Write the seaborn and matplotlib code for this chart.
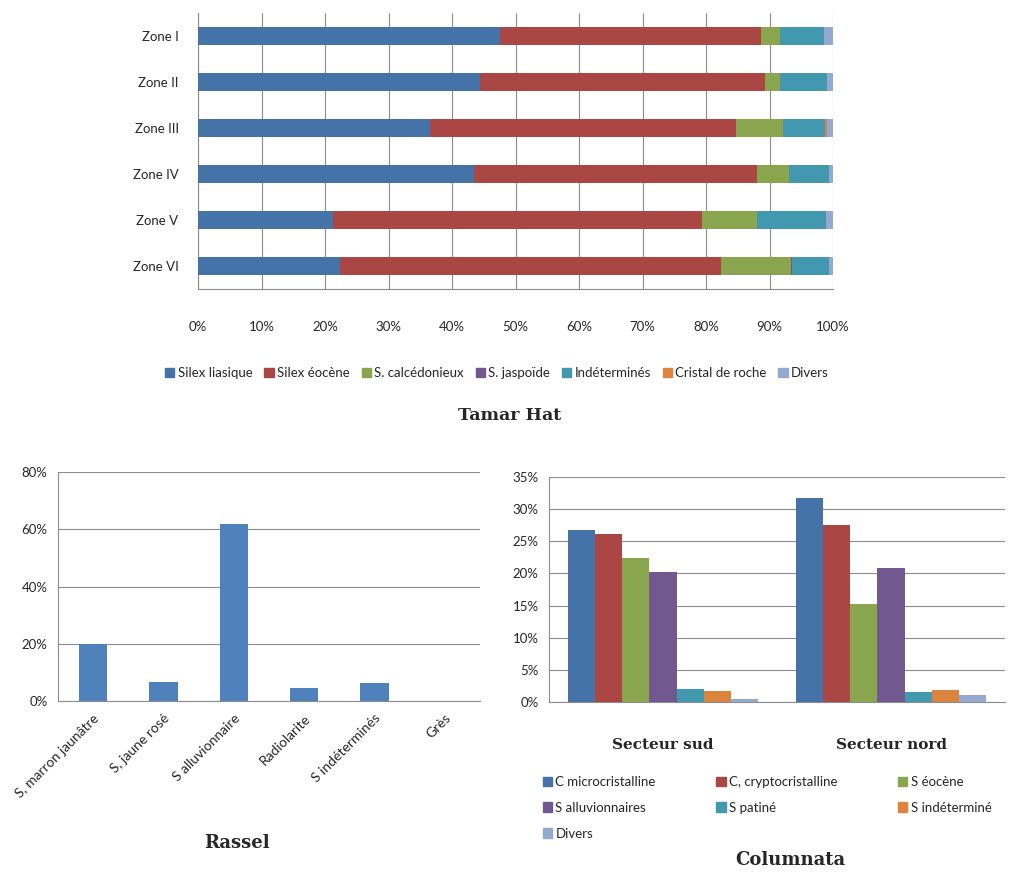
import numpy as np
import pandas as pd
import matplotlib.pyplot as plt
import seaborn as sns
from matplotlib.patches import Patch
from matplotlib.ticker import PercentFormatter, FixedLocator

# Tamar Hat (percentages per zone, stacked to 100)
zones = ['Zone I', 'Zone II', 'Zone III', 'Zone IV', 'Zone V', 'Zone VI']
silex_liasique = [47.5, 44.4, 36.5, 43.4, 21.2, 22.4]
silex_eocene = [41.1, 44.9, 48.2, 44.7, 58.2, 60.0]
s_calcedonieux = [3.1, 2.4, 7.4, 5.0, 8.7, 11.0]
s_jaspoide = [0.0, 0.0, 0.0, 0.0, 0.0, 0.1]
indetermines = [6.9, 7.4, 6.7, 6.2, 10.8, 5.8]
cristal_roche = [0.0, 0.0, 0.2, 0.0, 0.0, 0.0]
divers = [1.4, 0.9, 1.0, 0.7, 1.1, 0.7]
tamar_names = ['Silex liasique', 'Silex éocène', 'S. calcédonieux', 'S. jaspoïde',
               'Indéterminés', 'Cristal de roche', 'Divers']

# Rassel
rassel_cats = ['S, marron jaunâtre', 'S, jaune rosé', 'S alluvionnaire',
               'Radiolarite', 'S indéterminés', 'Grès']
rassel_vals = [20.0, 6.8, 62.0, 4.7, 6.2, 0.0]

# Columnata
secteurs = ['Secteur sud', 'Secteur nord']
col_names = ['C microcristalline', 'C, cryptocristalline', 'S éocène', 'S alluvionnaires',
             'S patiné', 'S indéterminé', 'Divers']
col_sud = [26.8, 26.1, 22.4, 20.3, 2.1, 1.7, 0.5]
col_nord = [31.7, 27.5, 15.2, 20.8, 1.6, 1.9, 1.1]

colors = ['#4572A7', '#AA4643', '#89A54E', '#71588F', '#4198AF', '#DB843D', '#93A9CF']
grid_c = '#8c8c8c'

sns.set_style('white')
plt.rcParams['font.family'] = ['Lato', 'DejaVu Sans']
plt.rcParams['font.size'] = 9.5
title_font = dict(family='DejaVu Serif', weight='bold')

fig = plt.figure(figsize=(10.19, 8.73), dpi=100)

# ---------- Tamar Hat ----------
ax1 = fig.add_axes([198 / 1019, 1 - 289 / 873, 635 / 1019, 276 / 873])
series = [silex_liasique, silex_eocene, s_calcedonieux, s_jaspoide,
          indetermines, cristal_roche, divers]
cum = np.cumsum(np.array(series), axis=0)
for i in range(len(series) - 1, -1, -1):
    sns.barplot(x=cum[i], y=zones, orient='h', color=colors[i], saturation=1,
                width=0.37, linewidth=0, ax=ax1, zorder=3)
ax1.set_xlim(0, 100)
ax1.set_xticks(np.arange(0, 101, 10))
ax1.xaxis.set_major_formatter(PercentFormatter(decimals=0))
ax1.grid(axis='x', color=grid_c, lw=0.8, zorder=0)
ax1.set_axisbelow(True)
ax1.set_xlabel('')
ax1.set_ylabel('')
for s in ['top', 'right']:
    ax1.spines[s].set_visible(False)
for s in ['left', 'bottom']:
    ax1.spines[s].set_color(grid_c)
ax1.tick_params(axis='y', length=0, pad=14)
ax1.tick_params(axis='x', length=5, color=grid_c, direction='out', pad=18)
ax1.yaxis.set_minor_locator(FixedLocator(np.arange(-0.5, 6, 1)))
ax1.tick_params(axis='y', which='minor', length=4, color=grid_c)
ax1.set_ylim(5.5, -0.5)

h1 = [Patch(color=c) for c in colors]
fig.legend(h1, tamar_names, loc='center', bbox_to_anchor=(497 / 1019, 1 - 373 / 873),
           ncol=7, frameon=False, handlelength=0.7, handleheight=0.7,
           handletextpad=0.25, columnspacing=0.9, fontsize=9.5)
fig.text(510 / 1019, 1 - 416 / 873, 'Tamar Hat', ha='center', va='center',
         fontsize=12.5, **title_font)

# ---------- Rassel ----------
ax2 = fig.add_axes([58 / 1019, 1 - 701 / 873, 422 / 1019, 229 / 873])
sns.barplot(x=rassel_cats, y=rassel_vals, color='#4F81BD', saturation=1,
            width=0.4, linewidth=0, ax=ax2, zorder=3)
ax2.set_ylim(0, 80)
ax2.set_yticks(np.arange(0, 81, 20))
ax2.yaxis.set_major_formatter(PercentFormatter(decimals=0))
ax2.set_xlim(-0.5, 5.5)
ax2.grid(axis='y', color=grid_c, lw=0.8, zorder=0)
ax2.set_axisbelow(True)
for s in ['top', 'right']:
    ax2.spines[s].set_visible(False)
for s in ['left', 'bottom']:
    ax2.spines[s].set_color(grid_c)
ax2.tick_params(axis='x', length=0, pad=8, labelsize=10)
ax2.tick_params(axis='y', length=4, color=grid_c)
ax2.xaxis.set_minor_locator(FixedLocator(np.arange(-0.5, 6, 1)))
ax2.tick_params(axis='x', which='minor', length=5, color=grid_c)
plt.setp(ax2.get_xticklabels(), rotation=45, ha='right', rotation_mode='anchor')
fig.text(237 / 1019, 1 - 843 / 873, 'Rassel', ha='center', va='center',
         fontsize=13, **title_font)

# ---------- Columnata ----------
df = pd.DataFrame({
    'secteur': np.repeat(secteurs, len(col_names)),
    'type': col_names * 2,
    'val': col_sud + col_nord,
})
ax3 = fig.add_axes([549 / 1019, 1 - 702 / 873, 456 / 1019, 225 / 873])
sns.barplot(data=df, x='secteur', y='val', hue='type', hue_order=col_names,
            palette=colors, saturation=1, width=0.83, linewidth=0, legend=False,
            ax=ax3, zorder=3)
ax3.set_ylim(0, 35)
ax3.set_yticks(np.arange(0, 36, 5))
ax3.yaxis.set_major_formatter(PercentFormatter(decimals=0))
ax3.set_xlim(-0.5, 1.5)
ax3.grid(axis='y', color=grid_c, lw=0.8, zorder=0)
ax3.set_axisbelow(True)
ax3.set_xlabel('')
ax3.set_ylabel('')
for s in ['top', 'right']:
    ax3.spines[s].set_visible(False)
for s in ['left', 'bottom']:
    ax3.spines[s].set_color(grid_c)
ax3.tick_params(axis='x', length=0, pad=26)
ax3.tick_params(axis='y', length=4, color=grid_c)
ax3.xaxis.set_minor_locator(FixedLocator([-0.5, 0.5, 1.5]))
ax3.tick_params(axis='x', which='minor', length=5, color=grid_c)
for t in ax3.get_xticklabels():
    t.set_family('DejaVu Serif')
    t.set_weight('bold')
    t.set_fontsize(11)

order = [0, 3, 6, 1, 4, 2, 5]
h3 = [Patch(color=colors[i]) for i in order]
fig.legend(h3, [col_names[i] for i in order], loc='upper left',
           bbox_to_anchor=(531 / 1019, 1 - 764 / 873), ncol=3, frameon=False,
           handlelength=0.7, handleheight=0.7, handletextpad=0.25,
           columnspacing=4.6, labelspacing=1.05, fontsize=9.5)
fig.text(790 / 1019, 1 - 860 / 873, 'Columnata', ha='center', va='center',
         fontsize=13, **title_font)

fig.savefig('out.png', dpi=100)
